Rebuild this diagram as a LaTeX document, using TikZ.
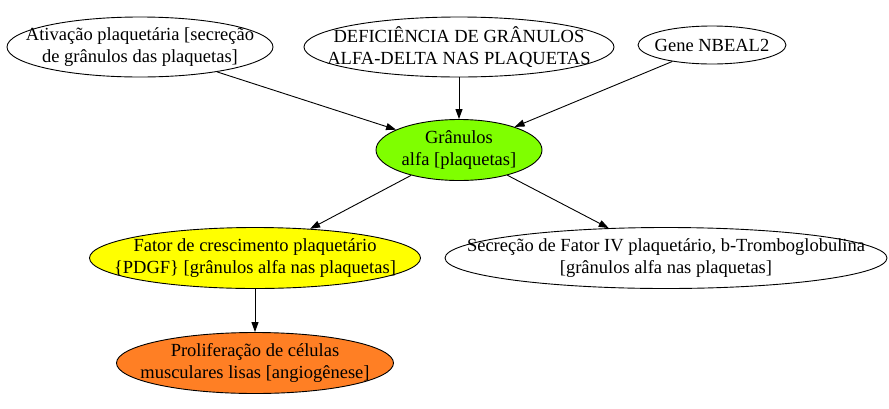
\documentclass[tikz,border=0pt]{standalone}
\usepackage{fontspec}
\setmainfont{Liberation Serif}
\usetikzlibrary{shapes.geometric,arrows.meta}
\definecolor{gchart}{HTML}{7FFF00}
\definecolor{gyellow}{HTML}{FFFF00}
\definecolor{gorange}{HTML}{FF7F24}
\tikzset{
  gnode/.style={ellipse,draw=black,line width=0.9pt,inner xsep=-100pt,inner ysep=-15pt,align=center,
    font=\fontsize{18.5}{21.5}\selectfont},
  garrow/.style={line width=0.9pt,-{Triangle[length=10pt,width=7pt]}}
}
\begin{document}
\begin{tikzpicture}[x=1pt,y=-1pt]
\useasboundingbox (0,0) rectangle (889,408);
\node[gnode,minimum width=266pt,minimum height=60pt] (ativ) at (140,47) {Ativação plaquetária [secreção\\de grânulos das plaquetas]};
\node[gnode,minimum width=310pt,minimum height=60pt] (defi) at (459,47) {DEFICIÊNCIA DE GRÂNULOS\\ALFA-DELTA NAS PLAQUETAS};
\node[gnode,minimum width=148pt,minimum height=38pt] (gene) at (712,45) {Gene NBEAL2};
\node[gnode,fill=gchart,minimum width=166pt,minimum height=61pt] (gran) at (459,150) {Grânulos\\alfa [plaquetas]};
\node[gnode,fill=gyellow,minimum width=331pt,minimum height=61pt] (pdgf) at (255,258) {Fator de crescimento plaquetário\\\{PDGF\} [grânulos alfa nas plaquetas]};
\node[gnode,minimum width=442pt,minimum height=61pt] (secr) at (666,258) {Secreção de Fator IV plaquetário, b-Tromboglobulina\\{}[grânulos alfa nas plaquetas]};
\node[gnode,fill=gorange,minimum width=277pt,minimum height=61pt] (prol) at (255,363) {Proliferação de células\\musculares lisas [angiogênese]};
\draw[garrow] (ativ) -- (gran);
\draw[garrow] (defi) -- (gran);
\draw[garrow] (gene) -- (gran);
\draw[garrow] (gran) -- (pdgf);
\draw[garrow] (gran) -- (secr);
\draw[garrow] (pdgf) -- (prol);
\end{tikzpicture}
\end{document}
